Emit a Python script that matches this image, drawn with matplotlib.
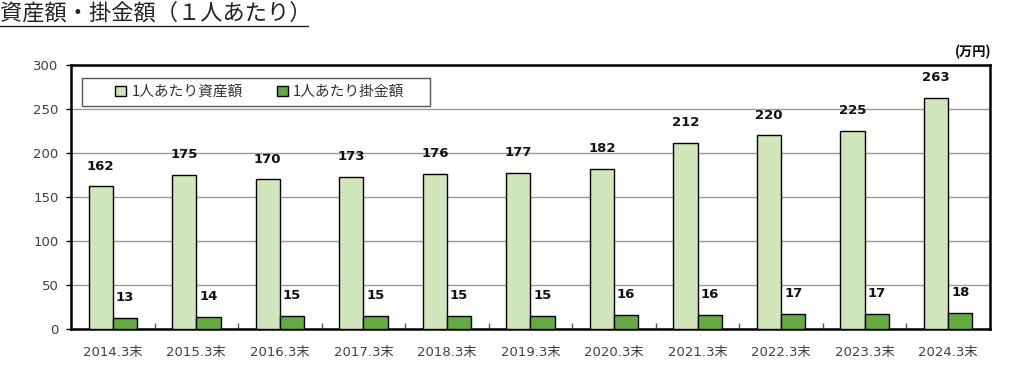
import matplotlib
matplotlib.use("Agg")
import matplotlib.pyplot as plt
from matplotlib.patches import Rectangle
import numpy as np

plt.rcParams['font.family'] = ['DejaVu Sans', 'Noto Sans CJK JP']
JP = ['Noto Sans CJK JP', 'DejaVu Sans']

categories = ["2014.3末", "2015.3末", "2016.3末", "2017.3末", "2018.3末", "2019.3末",
              "2020.3末", "2021.3末", "2022.3末", "2023.3末", "2024.3末"]
assets = [162, 175, 170, 173, 176, 177, 182, 212, 220, 225, 263]
contrib = [13, 14, 15, 15, 15, 15, 16, 16, 17, 17, 18]
series_names = ["1人あたり資産額", "1人あたり掛金額"]
yticks = [0, 50, 100, 150, 200, 250, 300]

fig = plt.figure(figsize=(10.19, 3.83), dpi=100)
ax = fig.add_axes([0.0697, 0.141, 0.9018, 0.689])

x = np.arange(len(categories))
w = 0.29
ax.bar(x - w / 2, assets, w, color="#D2E6BC", edgecolor="black", linewidth=1.0,
       label=series_names[0], zorder=3)
ax.bar(x + w / 2, contrib, w, color="#66AA44", edgecolor="black", linewidth=1.0,
       label=series_names[1], zorder=3)

for xi, v in zip(x, assets):
    ax.annotate(str(v), (xi - w / 2, v), xytext=(0, 10), textcoords="offset points",
                ha="center", va="bottom", fontsize=9.5, fontweight="bold", color="#111111")
for xi, v in zip(x, contrib):
    ax.annotate(str(v), (xi + w / 2, v), xytext=(0, 10), textcoords="offset points",
                ha="center", va="bottom", fontsize=9.5, fontweight="bold", color="#111111")

ax.set_xlim(-0.5, len(categories) - 0.5)
ax.set_ylim(0, 300)
ax.set_yticks(yticks)
ax.set_yticklabels([str(t) for t in yticks], fontsize=9.5, color="#404040")
ax.set_xticks(x)
ax.set_xticklabels(categories, fontsize=9.5, color="#404040")
ax.tick_params(axis="x", length=0, pad=12)
ax.tick_params(axis="y", direction="out", length=3.5, width=1, pad=5.5)
ax.set_xticks(np.arange(0.5, len(categories) - 1, 1), minor=True)
ax.tick_params(axis="x", which="minor", direction="in", length=4, width=1, color="#555555")
ax.yaxis.grid(True, color="#999999", linewidth=1.0, zorder=0)
for s in ax.spines.values():
    s.set_linewidth(1.8)
    s.set_color("black")

# legend box
ax.add_patch(Rectangle((0.012, 0.845), 0.3786, 0.106, transform=ax.transAxes,
                       facecolor="white", edgecolor="#555555", linewidth=1.0, zorder=4))
leg = ax.legend(loc="center left", bbox_to_anchor=(0.048, 0.898), ncol=2,
                frameon=False, handlelength=0.75, handleheight=0.75, columnspacing=2.3,
                borderpad=0, handletextpad=0.35, borderaxespad=0,
                prop={'family': JP, 'size': 10.6})
leg.set_zorder(5)
for t in leg.get_texts():
    t.set_color("#333333")

fig.text(0.9725, 0.845, "(万円)", ha="right", va="bottom", fontsize=9.5, fontweight="bold",
         family=JP)

fig.text(0.0, 0.995, "資産額・掛金額（１人あたり）", ha="left", va="top", fontsize=16,
         color="#222222", family=JP)
fig.add_artist(plt.Line2D([0.0, 0.302], [0.932, 0.932], color="#222222", linewidth=1.0,
                          transform=fig.transFigure))

fig.savefig("out.png", dpi=100)
